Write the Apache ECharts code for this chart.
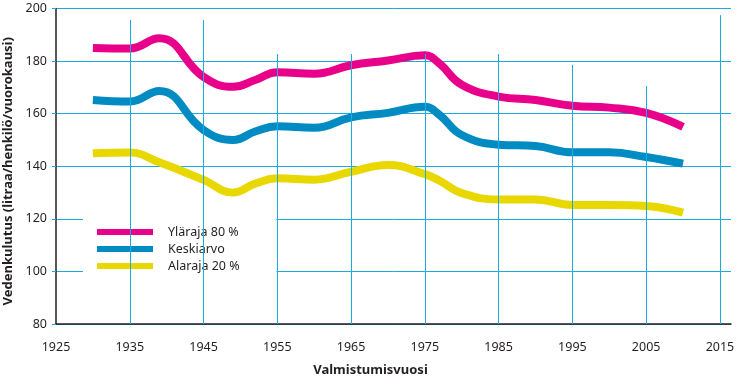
<!DOCTYPE html>
<html>
<head>
<meta charset="utf-8">
<script src="https://cdn.jsdelivr.net/npm/echarts@6/dist/echarts.min.js"></script>
<style>html,body{margin:0;padding:0;background:#fff}#c{width:743px;height:390px}</style>
</head>
<body>
<div id="c"></div>
<script>
// ---- data ----
const BASE_YEAR = 1925;
const years = [1930, 1935, 1939, 1945, 1949, 1952, 1955, 1960, 1965, 1970, 1975, 1977, 1980, 1985, 1990, 1995, 2000, 2005, 2010];
const ylaraja   = [185, 184.8, 188.7, 174, 170.2, 172.8, 175.8, 175.2, 178.4, 180.2, 182.2, 179, 171, 166.5, 165.2, 163, 162.3, 160.3, 155];
const keskiarvo = [165.2, 164.6, 168.6, 153.8, 150, 153.2, 155.2, 154.6, 158.6, 160.3, 162.6, 159.5, 151.9, 148.2, 147.7, 145.3, 145.3, 143.5, 141];
const alaraja   = [144.9, 145.2, 141.5, 134.8, 130, 133.4, 135.4, 134.9, 137.9, 140.5, 137, 134.5, 129.8, 127.4, 127.4, 125.3, 125.3, 124.9, 122.4];
const seriesNames = ['Yläraja 80 %', 'Keskiarvo', 'Alaraja 20 %'];
const seriesColors = ['#e8008a', '#008bc2', '#e8d800'];
const gridYears = [1935, 1945, 1955, 1965, 1975, 1985, 1995, 2005, 2015];
const gridTops  = [195.6, 195.6, 182.7, 182.7, 182.7, 182.7, 178.5, 170.5, 197.5];

const GRID_COLOR = '#19ace3';
const TEXT_COLOR = '#231f20';
const FONT = '"Noto Sans", "Liberation Sans", sans-serif';

function toPts(vals) { return years.map((y, i) => [y - BASE_YEAR, vals[i]]); }

const chart = echarts.init(document.getElementById('c'), null, {renderer: 'canvas'});
const lineSeries = [ylaraja, keskiarvo, alaraja].map((vals, i) => ({
  name: seriesNames[i],
  type: 'line',
  data: toPts(vals),
  smooth: 0.45,
  symbol: 'none',
  lineStyle: {width: 8, color: seriesColors[i]},
  itemStyle: {color: seriesColors[i]},
  z: 3,
  animation: false
}));

const vLines = gridYears.map((y, i) => [
  {coord: [y - BASE_YEAR, 80]},
  {coord: [y - BASE_YEAR, gridTops[i]]}
]);

chart.setOption({
  animation: false,
  grid: {left: 56, right: 12, top: 8.5, bottom: 66, outerBoundsMode: 'none', containLabel: false},
  legend: {
    data: seriesNames.map((n, i) => ({name: n, icon: 'rect', itemStyle: {color: seriesColors[i]}})),
    orient: 'vertical',
    left: 83, top: 215,
    padding: [10, 37, 10, 14],
    backgroundColor: '#ffffff',
    itemWidth: 56, itemHeight: 6,
    itemGap: 3,
    selectedMode: false,
    textStyle: {fontFamily: FONT, fontSize: 12.5, color: TEXT_COLOR, lineHeight: 14, padding: [0, 0, 0, 10]}
  },
  xAxis: {
    type: 'value',
    min: 0, max: 91.5, interval: 10,
    name: 'Valmistumisvuosi',
    nameLocation: 'middle',
    nameGap: 40,
    nameTextStyle: {fontFamily: FONT, fontSize: 13, fontWeight: 'bold', color: TEXT_COLOR, padding: [0, 46, 0, 0]},
    axisLine: {show: true, lineStyle: {color: TEXT_COLOR, width: 1.5}},
    axisTick: {show: false},
    splitLine: {show: false},
    axisLabel: {
      margin: 17,
      fontFamily: FONT, fontSize: 12.5, color: TEXT_COLOR,
      formatter: v => (Math.abs(v % 10) < 1e-6 ? String(v + BASE_YEAR) : '')
    }
  },
  yAxis: {
    type: 'value',
    min: 80, max: 200, interval: 20,
    name: 'Vedenkulutus (litraa/henkilö/vuorokausi)',
    nameLocation: 'middle',
    nameGap: 35,
    nameTextStyle: {fontFamily: FONT, fontSize: 13, fontWeight: 'bold', color: TEXT_COLOR, padding: [0, 10, 0, 0]},
    axisLine: {show: true, lineStyle: {color: TEXT_COLOR, width: 1.5}},
    axisTick: {show: true, length: 4, lineStyle: {color: GRID_COLOR}},
    splitLine: {show: true, lineStyle: {color: GRID_COLOR, width: 1}},
    axisLabel: {margin: 9, fontFamily: FONT, fontSize: 12.5, color: TEXT_COLOR}
  },
  series: [
    {
      name: 'grid',
      type: 'line',
      data: [],
      z: 1,
      silent: true,
      markLine: {
        silent: true,
        symbol: 'none',
        animation: false,
        label: {show: false},
        lineStyle: {color: GRID_COLOR, width: 1, type: 'solid'},
        emphasis: {disabled: true},
        data: vLines
      }
    },
    ...lineSeries
  ]
});
</script>
</body>
</html>
